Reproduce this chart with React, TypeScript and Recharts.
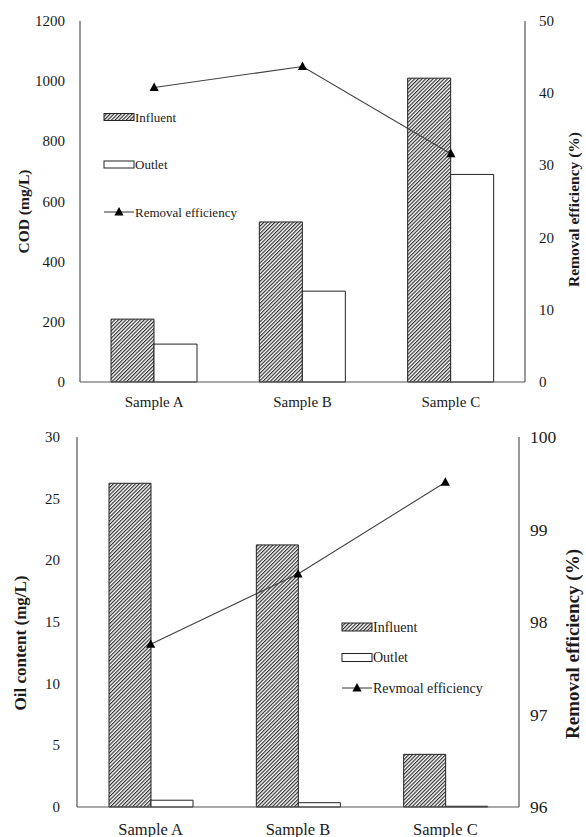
import React from 'react';
import { ComposedChart, Bar, Line, XAxis, YAxis, Legend, Label } from 'recharts';

const samples = ['Sample A', 'Sample B', 'Sample C'];

const codInfluent = [209, 532, 1010];
const codOutlet = [126, 302, 690];
const codRemoval = [40.8, 43.7, 31.6];
const codTicks = [0, 200, 400, 600, 800, 1000, 1200];
const codRemovalTicks = [0, 10, 20, 30, 40, 50];

const oilInfluent = [26.25, 21.25, 4.27];
const oilOutlet = [0.55, 0.35, 0.06];
const oilRemoval = [97.76, 98.52, 99.51];
const oilTicks = [0, 5, 10, 15, 20, 25, 30];
const oilRemovalTicks = [96, 97, 98, 99, 100];

const boundaryTicks = [1, 2];

const codLegend = ['Influent', 'Outlet', 'Removal efficiency'];
const oilLegend = ['Influent', 'Outlet', 'Revmoal efficiency'];

const codData = samples.map((name, i) => ({
  name,
  influent: codInfluent[i],
  outlet: codOutlet[i],
  removal: codRemoval[i],
}));
const oilData = samples.map((name, i) => ({
  name,
  influent: oilInfluent[i],
  outlet: oilOutlet[i],
  removal: oilRemoval[i],
}));

const FONT = '"Liberation Serif", "Times New Roman", Times, serif';
const TEXT = '#1a1a1a';
const AXIS = '#555555';

const Hatch = ({ id }: { id: string }) => (
  <pattern id={id} width="2.6" height="2.6" patternUnits="userSpaceOnUse" patternTransform="rotate(45)">
    <rect x="0" y="0" width="2.6" height="2.6" fill="#ffffff" />
    <line x1="0.6" y1="0" x2="0.6" y2="2.6" stroke="#2a2a2a" strokeWidth="1.15" />
  </pattern>
);

const triangle = (props: any) => {
  const { cx, cy, key } = props;
  if (cx == null || cy == null) return <g key={key} />;
  return (
    <path
      key={key}
      d={`M${cx},${cy - 5} L${cx + 4.6},${cy + 3.5} L${cx - 4.6},${cy + 3.5} Z`}
      fill="#000"
    />
  );
};

const txtStyle = (fontSize: number, bold = false): React.CSSProperties => ({
  fontFamily: FONT,
  fontSize,
  fontWeight: bold ? 'bold' : 'normal',
  fill: TEXT,
});

const makeXTick = (dy: number, fontSize: number) => (props: any) => {
  const { x, y, payload } = props;
  return (
    <text x={x} y={y + dy} textAnchor="middle" dominantBaseline="central" style={txtStyle(fontSize)}>
      {payload.value}
    </text>
  );
};

const makeYTick = (anchor: 'start' | 'end', fontSize: number) => (props: any) => {
  const { x, y, payload } = props;
  return (
    <text x={x} y={y} textAnchor={anchor} dominantBaseline="central" style={txtStyle(fontSize)}>
      {payload.value}
    </text>
  );
};

const axisTitle = (text: string, dx: number, dy: number, fontSize: number) => (props: any) => {
  const { viewBox } = props;
  const cx = viewBox.x + dx;
  const cy = viewBox.y + viewBox.height / 2 + dy;
  return (
    <text
      x={cx}
      y={cy}
      transform={`rotate(-90 ${cx} ${cy})`}
      textAnchor="middle"
      dominantBaseline="central"
      style={txtStyle(fontSize, true)}
    >
      {text}
    </text>
  );
};

const makeLegend = (labels: string[], spacing: number, fontSize: number, boxH: number, pid: string) => () => (
  <svg width={220} height={spacing * 2 + 24} style={{ display: 'block' }}>
    <defs>
      <Hatch id={pid} />
    </defs>
    <rect x={4} y={12 - boxH / 2} width={30} height={boxH} fill={`url(#${pid})`} stroke="#222" strokeWidth={1} />
    <text x={35} y={12} dominantBaseline="central" style={txtStyle(fontSize)}>{labels[0]}</text>
    <rect x={4} y={12 + spacing - boxH / 2} width={30} height={boxH} fill="#fff" stroke="#222" strokeWidth={1} />
    <text x={35} y={12 + spacing} dominantBaseline="central" style={txtStyle(fontSize)}>{labels[1]}</text>
    <line x1={4} x2={34} y1={12 + spacing * 2} y2={12 + spacing * 2} stroke="#333" strokeWidth={1} />
    <path d={`M19,${12 + spacing * 2 - 5} L23.6,${12 + spacing * 2 + 3.5} L14.4,${12 + spacing * 2 + 3.5} Z`} fill="#000" />
    <text x={35} y={12 + spacing * 2} dominantBaseline="central" style={txtStyle(fontSize)}>{labels[2]}</text>
  </svg>
);

export default function App() {
  return (
    <div style={{ position: 'absolute', left: 0, top: 0, width: 586, height: 837, background: '#fff', fontFamily: FONT }}>
      <div style={{ position: 'absolute', left: 0, top: 0 }}>
        <ComposedChart width={586} height={420} data={codData} margin={{ top: 21, right: 0, left: 0, bottom: 8 }} barGap={0}>
          <defs>
            <Hatch id="hatchTop" />
          </defs>
          <XAxis xAxisId="bound" type="number" domain={[0, 3]} ticks={boundaryTicks} allowDataOverflow height={0}
            mirror axisLine={false} tickSize={5} tickLine={{ stroke: AXIS }} tickFormatter={() => ''} />
          <XAxis xAxisId="cat" dataKey="name" height={30} axisLine={{ stroke: AXIS, strokeWidth: 1.2 }} tickLine={false}
            tickSize={0} tick={makeXTick(18, 15)} interval={0} />
          <XAxis xAxisId="top" orientation="top" type="number" domain={[0, 3]} allowDataOverflow height={0}
            axisLine={{ stroke: '#a8a8a8', strokeWidth: 1.2 }} tick={false} tickLine={false} />
          <YAxis yAxisId="left" width={80} domain={[0, 1200]} ticks={codTicks} tickLine={false} tickSize={0} tickMargin={15}
            axisLine={{ stroke: AXIS, strokeWidth: 1.2 }} tick={makeYTick('end', 15)}>
            <Label content={axisTitle('COD (mg/L)', 23, 10, 15.5)} />
          </YAxis>
          <YAxis yAxisId="right" orientation="right" width={61} domain={[0, 50]} ticks={codRemovalTicks} tickLine={false}
            tickSize={0} tickMargin={14} axisLine={{ stroke: AXIS, strokeWidth: 1.2 }} tick={makeYTick('start', 15)}>
            <Label content={axisTitle('Removal efficiency (%)', 48, 8, 15.5)} />
          </YAxis>
          <Legend layout="vertical" align="center" verticalAlign="middle" content={makeLegend(codLegend, 47.5, 13, 7, 'hatchLegTop')}
            wrapperStyle={{ left: 100, top: 105, width: 220 }} />
          <Bar xAxisId="cat" yAxisId="left" dataKey="influent" barSize={43} fill="url(#hatchTop)" stroke="#222" strokeWidth={1} isAnimationActive={false} />
          <Bar xAxisId="cat" yAxisId="left" dataKey="outlet" barSize={43} fill="#fff" stroke="#222" strokeWidth={1} isAnimationActive={false} />
          <Line xAxisId="cat" yAxisId="right" dataKey="removal" stroke="#404040" strokeWidth={1.1} dot={triangle} activeDot={false} isAnimationActive={false} />
        </ComposedChart>
      </div>
      <div style={{ position: 'absolute', left: 0, top: 420 }}>
        <ComposedChart width={586} height={417} data={oilData} margin={{ top: 17, right: 0, left: 0, bottom: 0 }} barGap={0}>
          <defs>
            <Hatch id="hatchBot" />
          </defs>
          <XAxis xAxisId="bound" type="number" domain={[0, 3]} ticks={boundaryTicks} allowDataOverflow height={0}
            mirror axisLine={false} tickSize={5} tickLine={{ stroke: AXIS }} tickFormatter={() => ''} />
          <XAxis xAxisId="cat" dataKey="name" height={30} axisLine={{ stroke: AXIS, strokeWidth: 1.2 }} tickLine={false}
            tickSize={0} tick={makeXTick(20, 16.5)} interval={0} />
          <XAxis xAxisId="top" orientation="top" type="number" domain={[0, 3]} allowDataOverflow height={0}
            axisLine={{ stroke: '#a8a8a8', strokeWidth: 1.2 }} tick={false} tickLine={false} />
          <YAxis yAxisId="left" width={77} domain={[0, 30]} ticks={oilTicks} tickLine={false} tickSize={0} tickMargin={17}
            axisLine={{ stroke: AXIS, strokeWidth: 1.2 }} tick={makeYTick('end', 15)}>
            <Label content={axisTitle('Oil content (mg/L)', 20.5, 21, 17)} />
          </YAxis>
          <YAxis yAxisId="right" orientation="right" width={67} domain={[96, 100]} ticks={oilRemovalTicks} tickLine={false}
            tickSize={0} tickMargin={11} axisLine={{ stroke: AXIS, strokeWidth: 1.2 }} tick={makeYTick('start', 17.5)}>
            <Label content={axisTitle('Removal efficiency (%)', 53.5, 22, 19)} />
          </YAxis>
          <Legend layout="vertical" align="center" verticalAlign="middle" content={makeLegend(oilLegend, 30.5, 14, 8, 'hatchLegBot')}
            wrapperStyle={{ left: 338, top: 195, width: 220 }} />
          <Bar xAxisId="cat" yAxisId="left" dataKey="influent" barSize={42} fill="url(#hatchBot)" stroke="#222" strokeWidth={1} isAnimationActive={false} />
          <Bar xAxisId="cat" yAxisId="left" dataKey="outlet" barSize={42} fill="#fff" stroke="#222" strokeWidth={1} isAnimationActive={false} />
          <Line xAxisId="cat" yAxisId="right" dataKey="removal" stroke="#404040" strokeWidth={1.1} dot={triangle} activeDot={false} isAnimationActive={false} />
        </ComposedChart>
      </div>
    </div>
  );
}
